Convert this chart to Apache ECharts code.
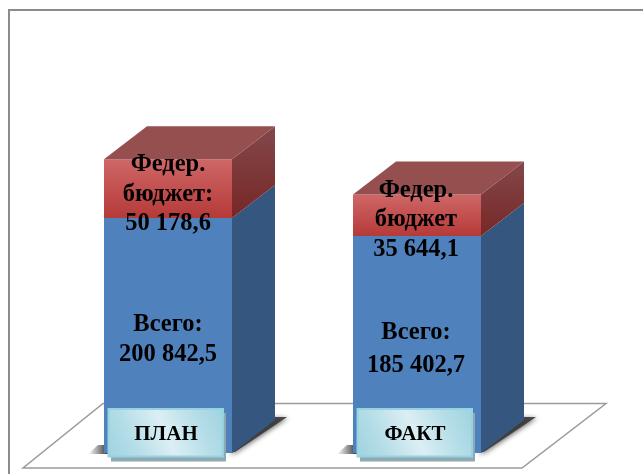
<!DOCTYPE html>
<html><head><meta charset="utf-8">
<style>html,body{margin:0;padding:0;background:#fff}#c{width:643px;height:474px}</style>
<script src="https://cdn.jsdelivr.net/npm/echarts@6/dist/echarts.min.js"></script>
</head><body><div id="c"></div>
<script>
const categories = ['ПЛАН', 'ФАКТ'];
const mainValues = [200842.5, 185402.7];
const fedValues = [50178.6, 35644.1];
const mainLabels = ['Всего:\n200 842,5', 'Всего:\n185 402,7'];
const fedLabels = ['Федер.\nбюджет:\n50 178,6', 'Федер.\nбюджет\n35 644,1'];

const DX = 43, DY = 33, BAR = 128;
const FONT = '"Liberation Serif","Times New Roman",serif';
const v = (c1, c2, x2, y2) => ({type:'linear',x:0,y:0,x2:x2||0,y2:y2===undefined?1:y2,colorStops:[{offset:0,color:c1},{offset:1,color:c2}]});

function poly(points, fill, extra) {
  return Object.assign({type:'polygon', shape:{points}, style:{fill}, silent:true}, extra||{});
}
function block(x, y0, y1, front, side) {
  const l = x - BAR/2, r = x + BAR/2;
  return [
    poly([[r,y0],[r+DX,y0-DY],[r+DX,y1-DY],[r,y1]], side),
    {type:'rect', shape:{x:l,y:y1,width:BAR,height:y0-y1}, style:{fill:front}, silent:true}
  ];
}
const seriesList = [
  { // shadows
    type:'custom', z:1, silent:true,
    data: categories.map((c,i)=>[i,0]),
    renderItem(p, api){
      const [x,y] = api.coord([api.value(0),0]);
      const l = x-BAR/2, r = x+BAR/2;
      return {type:'group',children:[
        poly([[l-16,y+1],[l-6,y-8],[l+4,y-8],[l+4,y+1]],v('rgba(60,60,60,0)','rgba(40,40,40,0.95)',1,0)),
        {type:'polygon',silent:true,shape:{points:[[r-4,y],[r+DX-4,y-DY-3],[r+DX+12,y-DY-3],[r+3,y-1]]},
          style:{fill:'rgba(50,50,50,0.85)',shadowBlur:5,shadowColor:'rgba(40,40,40,0.8)',shadowOffsetX:1,shadowOffsetY:1}}
      ]};
    }
  },
  { // blue
    type:'custom', name:'Всего', z:3,
    data: categories.map((c,i)=>[i,mainValues[i]]),
    renderItem(p, api){
      const i = api.value(0);
      const [x,y0] = api.coord([i,0]);
      const y1 = api.coord([i,api.value(1)])[1];
      return {type:'group',children:[
        ...block(x,y0,y1,'#4f81bd','#34567f'),
        {type:'text',z2:10,silent:true,style:{text:mainLabels[i],x:x-(i?1:0),y:(y0+y1)/2+(i?5:4),align:'center',verticalAlign:'middle',
          font:'bold 24.5px '+FONT,lineHeight:i?33:30,fill:'#000'}}
      ]};
    }
  },
  { // red
    type:'custom', name:'Федер. бюджет', z:4,
    data: categories.map((c,i)=>[i,mainValues[i],fedValues[i]]),
    renderItem(p, api){
      const i = api.value(0);
      const [x,y0] = api.coord([i,api.value(1)]);
      const y1 = api.coord([i,api.value(1)+api.value(2)])[1];
      const l = x-BAR/2, r = x+BAR/2;
      return {type:'group',children:[
        ...block(x,y0,y1,v('#cf6767','#b53a38'),v('#83484a','#772726')),
        poly([[l,y1],[l+DX,y1-DY],[r+DX,y1-DY],[r,y1]],'#954f4f'),
        {type:'text',z2:10,silent:true,style:{text:fedLabels[i],x:x-(i?1:0),y:(y0+y1)/2+(i?4.5:6),align:'center',verticalAlign:'middle',
          font:'bold 24.5px '+FONT,lineHeight:29.5,fill:'#000'}}
      ]};
    }
  },
  { // category plates
    type:'custom', z:5, silent:true,
    data: categories.map((c,i)=>[i,0]),
    renderItem(p, api){
      const [x,y] = api.coord([api.value(0),0]);
      const gid = {type:'linear',x:1,y:0,x2:0,y2:1,colorStops:[{offset:0,color:'#9dd3e0'},{offset:0.22,color:'#b4dde7'},{offset:0.5,color:'#dceef4'},{offset:0.78,color:'#b4dde7'},{offset:1,color:'#9dd3e0'}]};
      return {type:'group',children:[
        {type:'rect',shape:{x:x-57,y:y-40,width:115,height:48.5},style:{fill:'#8fa9b2'},silent:true},
        {type:'rect',shape:{x:x-59.5,y:y-44,width:114.5,height:47.5},style:{fill:gid,stroke:'#97d2e0',lineWidth:2},silent:true}
      ]};
    }
  }
];

const chart = echarts.init(document.getElementById('c'),null,{renderer:'canvas'});
chart.setOption({
  animation:false,
  backgroundColor:'#fff',
  grid:{left:43.5,width:498,top:102,bottom:21,containLabel:false},
  xAxis:{type:'category',data:categories,z:6,
    axisLine:{show:false},axisTick:{show:false},
    axisLabel:{color:'#000',fontFamily:FONT,fontWeight:'bold',fontSize:21,margin:-8,verticalAlign:'bottom',padding:[0,4,0,0]}},
  yAxis:{type:'value',min:0,max:300000,interval:100000,show:false,splitLine:{show:false}},
  graphic:[
    {type:'polyline',z:0,shape:{points:[[9,474],[9,10],[643,10]]},style:{stroke:'#8c8c8c',lineWidth:2,fill:null},silent:true},
    {type:'polygon',z:0,shape:{points:[[23,468],[522,468],[606,403.5],[103,403.5]]},style:{stroke:'#9b9b9b',lineWidth:1.5,fill:'#fff'},silent:true}
  ],
  series:seriesList
});
</script></body></html>
